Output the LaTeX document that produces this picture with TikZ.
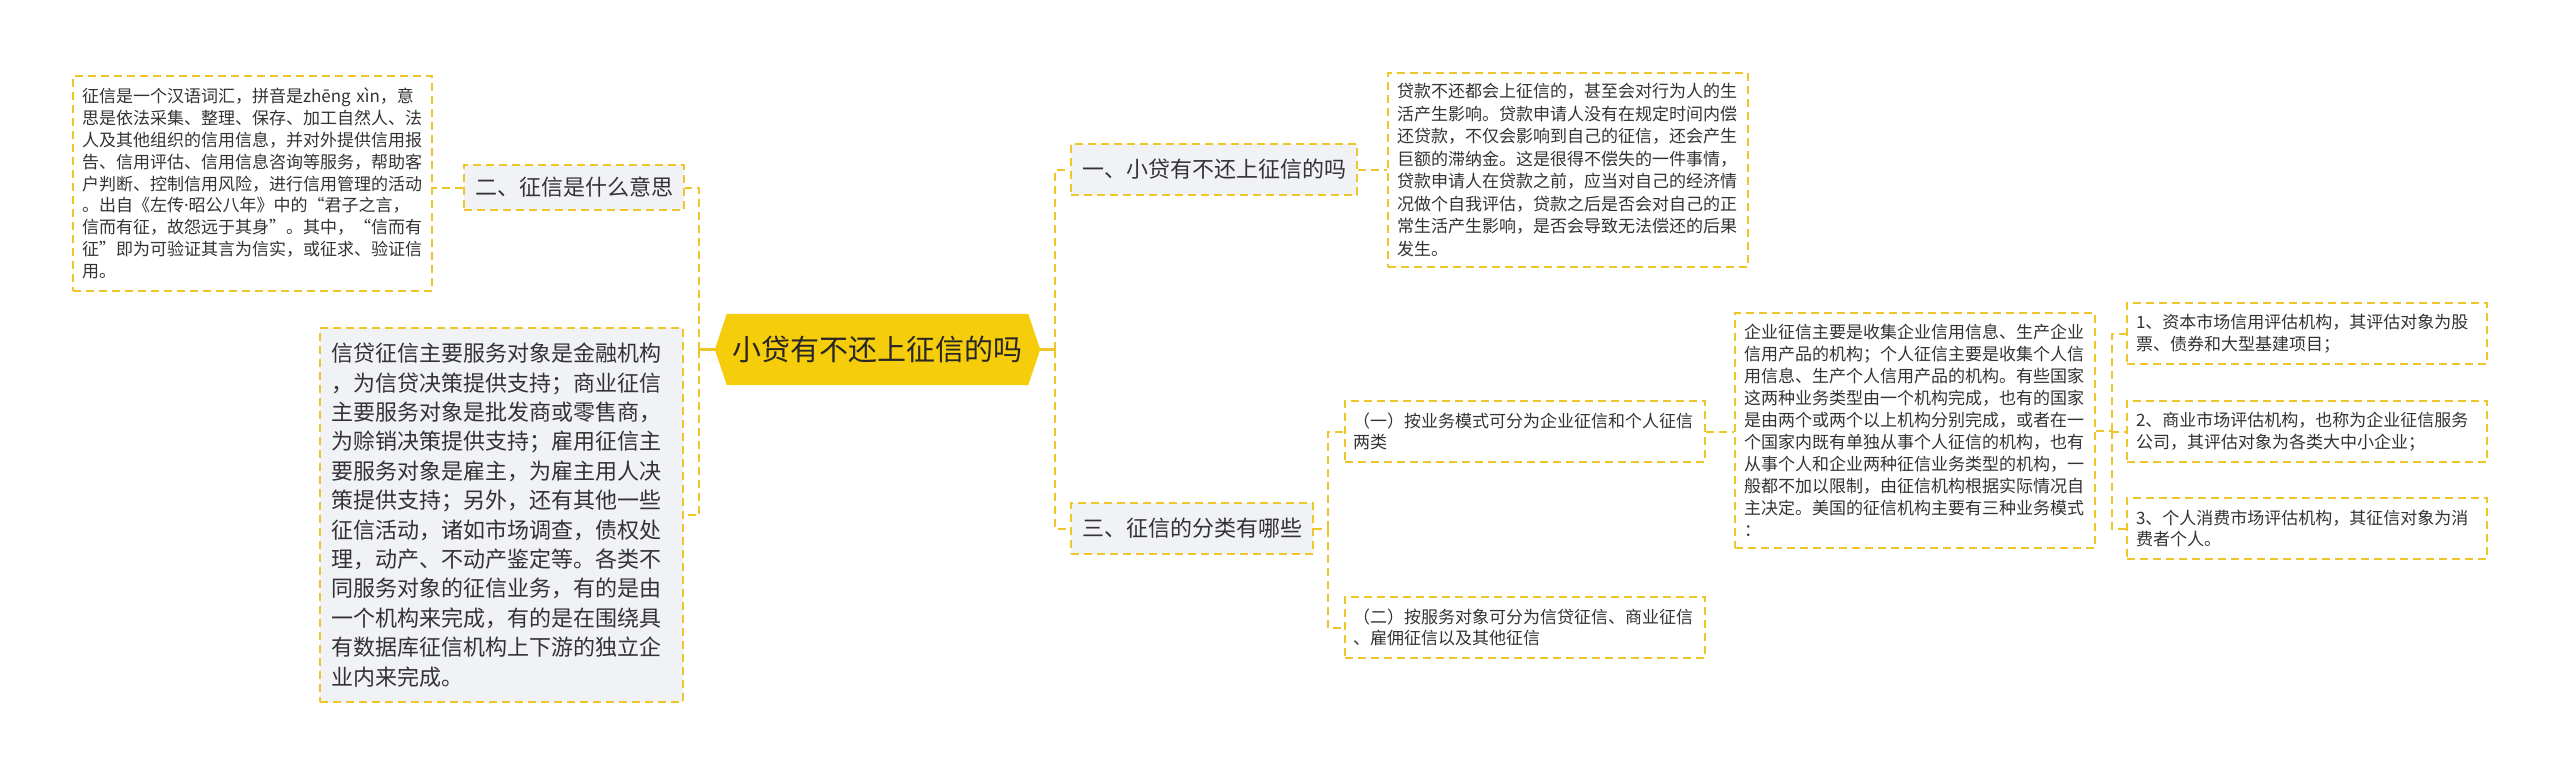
\documentclass[tikz,border=0pt]{standalone}
\usepackage{fontspec}
\setmainfont{Noto Sans CJK SC}
\newfontfamily\latinfont{Noto Sans}
\usetikzlibrary{backgrounds}
\definecolor{bord}{HTML}{EFC62A}
\definecolor{hub}{HTML}{F6CD0A}
\definecolor{greyfill}{HTML}{F0F2F5}
\definecolor{txt}{HTML}{333333}
\tikzset{
  box/.style={draw=bord, line width=2pt, dash pattern=on 8pt off 5pt, rectangle, inner xsep=9pt, inner ysep=0pt, text=txt, align=left},
  topic/.style={box, fill=greyfill, font=\fontsize{22}{28}\selectfont, align=center},
  small/.style={font=\fontsize{17}{21.8}\selectfont},
  link/.style={draw=bord, line width=2pt, dash pattern=on 8pt off 5pt},
  hublink/.style={draw=bord, line width=3pt},
}
\begin{document}
\begin{tikzpicture}[x=1pt,y=-1pt]
\useasboundingbox (0,0) rectangle (2560,776);

% left top text box
\node[box, small, minimum width=359pt, minimum height=215pt, text width=341pt] (A) at (252.5,183.5)
{征信是一个汉语词汇，拼音是zhēng xìn，意\\思是依法采集、整理、保存、加工自然人、法\\人及其他组织的信用信息，并对外提供信用报\\告、信用评估、信用信息咨询等服务，帮助客\\户判断、控制信用风险，进行信用管理的活动\\。出自《左传{\latinfont ·}昭公八年》中的“君子之言，\\信而有征，故怨远于其身”。其中，“信而有\\征”即为可验证其言为信实，或征求、验证信\\用。};

\node[topic, minimum width=220pt, minimum height=45pt] (B) at (574,187.5) {二、征信是什么意思};

% centre
\node[minimum width=325pt, minimum height=71pt, inner sep=0pt, text=black!85, font=\fontsize{29}{34}\selectfont] (C) at (877.5,349.5) {小贷有不还上征信的吗};
\begin{scope}[on background layer]
\fill[white] (0,0) rectangle (2560,776);
\fill[hub] (C.west) -- ([xshift=12pt]C.north west) -- ([xshift=-12pt]C.north east) -- (C.east) -- ([xshift=-12pt]C.south east) -- ([xshift=12pt]C.south west) -- cycle;
\end{scope}

% left bottom box
\node[box, fill=greyfill, font=\fontsize{22}{29.4}\selectfont, minimum width=363pt, minimum height=374pt, text width=341pt, inner xsep=11pt] (D) at (501.5,515)
{信贷征信主要服务对象是金融机构\\，为信贷决策提供支持；商业征信\\主要服务对象是批发商或零售商，\\为赊销决策提供支持；雇用征信主\\要服务对象是雇主，为雇主用人决\\策提供支持；另外，还有其他一些\\征信活动，诸如市场调查，债权处\\理，动产、不动产鉴定等。各类不\\同服务对象的征信业务，有的是由\\一个机构来完成，有的是在围绕具\\有数据库征信机构上下游的独立企\\业内来完成。};

% right side
\node[topic, minimum width=286pt, minimum height=51pt] (E) at (1214,169.5) {一、小贷有不还上征信的吗};
\node[box, small, minimum width=360pt, minimum height=194pt, text width=342pt, font=\fontsize{17}{22.5}\selectfont] (F) at (1568,170)
{贷款不还都会上征信的，甚至会对行为人的生\\活产生影响。贷款申请人没有在规定时间内偿\\还贷款，不仅会影响到自己的征信，还会产生\\巨额的滞纳金。这是很得不偿失的一件事情，\\贷款申请人在贷款之前，应当对自己的经济情\\况做个自我评估，贷款之后是否会对自己的正\\常生活产生影响，是否会导致无法偿还的后果\\发生。};

\node[topic, minimum width=242pt, minimum height=51pt] (G) at (1192,528.5) {三、征信的分类有哪些};

\node[box, small, minimum width=360pt, minimum height=61pt, text width=344pt, inner xsep=8pt] (H) at (1525,431.5)
{（一）按业务模式可分为企业征信和个人征信\\两类};
\node[box, small, minimum width=360pt, minimum height=61pt, text width=344pt, inner xsep=8pt] (I) at (1525,627.5)
{（二）按服务对象可分为信贷征信、商业征信\\、雇佣征信以及其他征信};

\node[box, small, minimum width=360pt, minimum height=235pt, text width=342pt, font=\fontsize{17}{22}\selectfont] (J) at (1915,430.5)
{企业征信主要是收集企业信用信息、生产企业\\信用产品的机构；个人征信主要是收集个人信\\用信息、生产个人信用产品的机构。有些国家\\这两种业务类型由一个机构完成，也有的国家\\是由两个或两个以上机构分别完成，或者在一\\个国家内既有单独从事个人征信的机构，也有\\从事个人和企业两种征信业务类型的机构，一\\般都不加以限制，由征信机构根据实际情况自\\主决定。美国的征信机构主要有三种业务模式\\：};

\node[box, small, minimum width=360pt, minimum height=61pt, text width=342pt] (K1) at (2307,333.5)
{1、资本市场信用评估机构，其评估对象为股\\票、债券和大型基建项目；};
\node[box, small, minimum width=360pt, minimum height=61pt, text width=342pt] (K2) at (2307,431.5)
{2、商业市场评估机构，也称为企业征信服务\\公司，其评估对象为各类大中小企业；};
\node[box, small, minimum width=360pt, minimum height=61pt, text width=342pt] (K3) at (2307,528.5)
{3、个人消费市场评估机构，其征信对象为消\\费者个人。};

% junction coordinates
\coordinate (TL) at (699,349.5);
\coordinate (TR) at (1055,349.5);
\coordinate (TG) at (1328,528.5);
\coordinate (TJ) at (2112,430.5);

% connectors
\draw[hublink] (C.west) -- (TL);
\draw[hublink] (C.east) -- (TR);
\draw[link] (TL) |- (B.east);
\draw[link] (TL) |- (D.east);
\draw[link] (B.west) -- (B.west -| A.east);
\draw[link] (TR) |- (E.west);
\draw[link] (TR) |- (G.west);
\draw[link] (E.east) -- (E.east -| F.west);
\draw[link] (G.east) -- (TG);
\draw[link] (TG) |- (H.west);
\draw[link] (TG) |- (I.west);
\draw[link] (H.east) -- (H.east -| J.west);
\draw[link] (J.east) -- (TJ);
\draw[link] (TJ) |- (K1.west);
\draw[link] (TJ) |- (K2.west);
\draw[link] (TJ) |- (K3.west);
\end{tikzpicture}
\end{document}
